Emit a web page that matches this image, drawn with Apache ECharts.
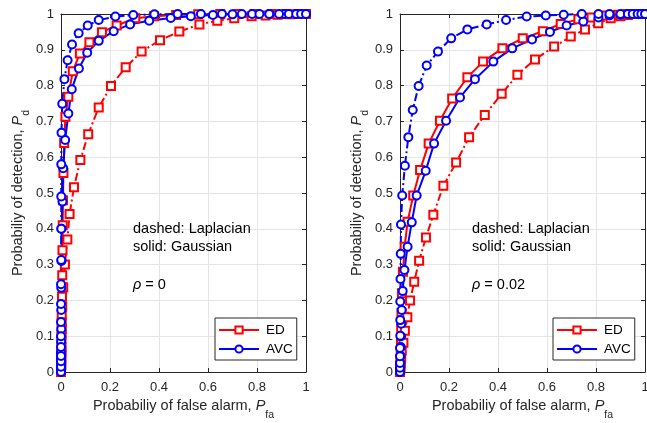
<!DOCTYPE html>
<html><head><meta charset="utf-8">
<script src="https://cdn.jsdelivr.net/npm/echarts@6/dist/echarts.min.js"></script>
<style>html,body{margin:0;padding:0;background:#fff}#c{width:647px;height:423px}</style>
</head><body><div id="c"></div>
<script>
// ---------- data (Pfa, Pd) ----------
const seriesNames = ['ED', 'AVC'];
const xTickStep = 0.2, yTickStep = 0.1;
const rhoValues = ['0', '0.02'];

// rho = 0
const edGauss0 = [[0,0],[0.001,0.02],[0.001,0.04],[0.002,0.06],[0.002,0.09],[0.003,0.12],[0.003,0.16],[0.004,0.21],[0.005,0.27],[0.006,0.34],[0.007,0.41],[0.008,0.48],[0.01,0.556],[0.013,0.64],[0.018,0.713],[0.03,0.769],[0.048,0.84],[0.077,0.89],[0.116,0.921],[0.167,0.949],[0.227,0.968],[0.303,0.988],[0.38,0.994],[0.47,0.997],[0.56,0.999],[0.65,1],[0.72,1],[0.79,1],[0.86,1],[0.92,1],[0.97,1],[1,1]];
const edLap0 = [[0,0],[0.0005,0.01],[0.0005,0.02],[0.001,0.035],[0.001,0.05],[0.0015,0.07],[0.002,0.105],[0.003,0.138],[0.005,0.182],[0.009,0.237],[0.016,0.30],[0.026,0.37],[0.035,0.441],[0.053,0.516],[0.079,0.592],[0.111,0.664],[0.154,0.739],[0.204,0.799],[0.264,0.851],[0.329,0.895],[0.404,0.927],[0.483,0.951],[0.565,0.971],[0.638,0.981],[0.707,0.988],[0.778,0.994],[0.835,0.996],[0.884,0.998],[0.934,0.999],[0.968,1],[0.99,1],[1,1]];
const avcGauss0 = [[0,0],[0,0.01],[0,0.02],[0,0.036],[0,0.055],[0.0005,0.085],[0.001,0.12],[0.001,0.173],[0.001,0.235],[0.002,0.31],[0.002,0.40],[0.006,0.476],[0.009,0.569],[0.017,0.648],[0.03,0.722],[0.044,0.79],[0.073,0.848],[0.107,0.892],[0.154,0.925],[0.215,0.952],[0.282,0.971],[0.36,0.981],[0.448,0.989],[0.53,0.994],[0.62,0.997],[0.7,0.999],[0.78,1],[0.85,1],[0.91,1],[0.96,1],[1,1]];
const avcLap0 = [[0,0],[0,0.015],[0,0.03],[0,0.045],[0,0.07],[0,0.1],[0,0.14],[0,0.19],[0,0.245],[0.001,0.313],[0.001,0.40],[0.001,0.49],[0.001,0.58],[0.002,0.668],[0.005,0.749],[0.014,0.818],[0.027,0.871],[0.045,0.915],[0.072,0.946],[0.109,0.968],[0.154,0.983],[0.222,0.993],[0.295,0.997],[0.381,0.999],[0.476,1],[0.571,1],[0.657,1],[0.738,1],[0.81,1],[0.85,1],[0.89,1],[0.93,1],[0.96,1],[0.98,1],[1,1]];

// rho = 0.02
const edGauss2 = [[0,0],[0.001,0.015],[0.002,0.03],[0.003,0.06],[0.004,0.085],[0.005,0.12],[0.006,0.165],[0.008,0.22],[0.012,0.28],[0.019,0.35],[0.031,0.42],[0.054,0.493],[0.082,0.564],[0.117,0.638],[0.163,0.702],[0.213,0.764],[0.275,0.823],[0.339,0.867],[0.418,0.904],[0.501,0.932],[0.583,0.952],[0.656,0.972],[0.728,0.985],[0.782,0.99],[0.84,0.996],[0.89,0.998],[0.93,1],[0.96,1],[0.98,1],[1,1]];
const edLap2 = [[0,0],[0.002,0.01],[0.003,0.025],[0.005,0.04],[0.007,0.06],[0.014,0.082],[0.02,0.115],[0.03,0.153],[0.041,0.2],[0.058,0.252],[0.078,0.311],[0.106,0.376],[0.136,0.439],[0.177,0.52],[0.229,0.585],[0.282,0.656],[0.346,0.718],[0.415,0.777],[0.479,0.83],[0.551,0.873],[0.629,0.909],[0.697,0.937],[0.755,0.957],[0.809,0.974],[0.86,0.988],[0.9,0.994],[0.93,0.997],[0.96,1],[0.98,1],[1,1]];
const avcGauss2 = [[0,0],[0.001,0.01],[0.001,0.025],[0.002,0.045],[0.003,0.07],[0.004,0.1],[0.005,0.135],[0.007,0.173],[0.011,0.226],[0.018,0.285],[0.031,0.35],[0.048,0.418],[0.068,0.493],[0.105,0.562],[0.139,0.638],[0.188,0.702],[0.245,0.767],[0.306,0.818],[0.381,0.867],[0.458,0.904],[0.539,0.929],[0.612,0.95],[0.68,0.968],[0.748,0.979],[0.81,0.99],[0.855,0.996],[0.9,0.998],[0.93,1],[0.95,1],[0.97,1],[0.985,1],[1,1]];
const avcLap2 = [[0,0],[0,0.012],[0,0.025],[0,0.044],[0,0.067],[0.001,0.101],[0.001,0.145],[0.001,0.197],[0.002,0.26],[0.003,0.33],[0.004,0.412],[0.009,0.493],[0.02,0.576],[0.034,0.656],[0.052,0.732],[0.076,0.799],[0.109,0.856],[0.155,0.895],[0.209,0.932],[0.275,0.957],[0.354,0.971],[0.433,0.983],[0.517,0.993],[0.595,0.996],[0.668,0.998],[0.742,1],[0.81,1],[0.855,1],[0.9,1],[0.93,1],[0.95,1],[0.97,1],[0.985,1],[1,1]];

// ---------- styling / layout ----------
const FONT = "'Liberation Sans', Arial, Helvetica, sans-serif";
const AX = '#262626';
const RED = '#ff0000', BLUE = '#0000ff';
const DASHDOT = [8, 3, 2, 3];
const grids = [
  {left: 61, top: 14, width: 245, height: 358, containLabel: false, outerBoundsMode: 'none'},
  {left: 400, top: 14, width: 245, height: 358, containLabel: false, outerBoundsMode: 'none'}
];

const richName = {
  i: {fontStyle: 'italic', fontSize: 14.5, fontFamily: FONT, color: AX, lineHeight: 28},
  s: {fontSize: 10.5, fontFamily: FONT, color: AX, lineHeight: 10, verticalAlign: 'bottom'},
  n: {fontSize: 14.5, fontFamily: FONT, color: AX, lineHeight: 28}
};

const xAxes = [], yAxes = [];
for (let g = 0; g < 2; g++) {
  xAxes.push({
    type: 'value', gridIndex: g, min: 0, max: 1, interval: xTickStep, position: 'bottom',
    axisLine: {onZero: false, lineStyle: {color: AX, width: 1}},
    axisTick: {inside: true, length: 4, lineStyle: {color: AX}},
    axisLabel: {color: AX, fontSize: 13, fontFamily: FONT, margin: 9},
    splitLine: {show: true, lineStyle: {color: '#e4e4e4', width: 1}},
    name: '{n|Probabiliy of false alarm, }{i|P}{s|fa}',
    nameLocation: 'middle', nameGap: 20,
    nameTextStyle: {rich: richName}
  });
  xAxes.push({
    type: 'value', gridIndex: g, min: 0, max: 1, interval: xTickStep, position: 'top',
    axisLine: {onZero: false, lineStyle: {color: AX, width: 1}},
    axisTick: {inside: true, length: 4, lineStyle: {color: AX}},
    axisLabel: {show: false}, splitLine: {show: false}
  });
  yAxes.push({
    type: 'value', gridIndex: g, min: 0, max: 1, interval: yTickStep, position: 'left',
    axisLine: {onZero: false, lineStyle: {color: AX, width: 1}},
    axisTick: {inside: true, length: 4, lineStyle: {color: AX}},
    axisLabel: {color: AX, fontSize: 13, fontFamily: FONT, margin: 7},
    splitLine: {show: true, lineStyle: {color: '#e4e4e4', width: 1}},
    name: '{n|Probabiliy of detection, }{i|P}{s|d}',
    nameLocation: 'middle', nameGap: 28.5, nameRotate: 90,
    nameTextStyle: {rich: richName}
  });
  yAxes.push({
    type: 'value', gridIndex: g, min: 0, max: 1, interval: yTickStep, position: 'right',
    axisLine: {onZero: false, lineStyle: {color: AX, width: 1}},
    axisTick: {inside: true, length: 4, lineStyle: {color: AX}},
    axisLabel: {show: false}, splitLine: {show: false}
  });
}

function mk(name, data, g, color, dashed, symbol) {
  return {
    type: 'line', name: name, data: data,
    xAxisIndex: g * 2, yAxisIndex: g * 2,
    symbol: symbol, symbolSize: 8,
    showSymbol: true, clip: false, animation: false,
    lineStyle: {color: color, width: 2, type: dashed ? DASHDOT : 'solid'},
    itemStyle: {color: color, borderWidth: 1.7, borderColor: color},
    emphasis: {disabled: true}
  };
}

const series = [
  mk('ED', edGauss0, 0, RED, false, 'emptyRect'),
  mk('ED', edLap0, 0, RED, true, 'emptyRect'),
  mk('AVC', avcGauss0, 0, BLUE, false, 'emptyCircle'),
  mk('AVC', avcLap0, 0, BLUE, true, 'emptyCircle'),
  mk('ED', edGauss2, 1, RED, false, 'emptyRect'),
  mk('ED', edLap2, 1, RED, true, 'emptyRect'),
  mk('AVC', avcGauss2, 1, BLUE, false, 'emptyCircle'),
  mk('AVC', avcLap2, 1, BLUE, true, 'emptyCircle')
];

function legend(left) {
  return {
    data: seriesNames, orient: 'vertical', left: left, top: 318,
    itemWidth: 40, itemHeight: 9, itemGap: 5, padding: [5, 4, 4, 3],
    backgroundColor: '#fff', borderColor: AX, borderWidth: 1,
    textStyle: {color: '#000', fontSize: 13.5, fontFamily: FONT, padding: [0, 0, 0, 2]},
    selectedMode: false
  };
}

function notes(x, rho) {
  const base = {fontFamily: FONT, fontSize: 14.5, fill: '#000'};
  return [
    {type: 'text', left: x, top: 221, z: 50, style: Object.assign({text: 'dashed: Laplacian'}, base)},
    {type: 'text', left: x, top: 239, z: 50, style: Object.assign({text: 'solid: Gaussian'}, base)},
    {type: 'text', left: x, top: 277, z: 50, style: Object.assign({
      text: '{g|\u03c1} = ' + rho,
      rich: {g: {fontStyle: 'italic', fontFamily: FONT, fontSize: 14.5, fill: '#000'}}
    }, base)}
  ];
}

const chart = echarts.init(document.getElementById('c'), null, {renderer: 'canvas'});
chart.setOption({
  animation: false,
  backgroundColor: '#fff',
  grid: grids,
  xAxis: xAxes,
  yAxis: yAxes,
  legend: [legend(215), legend(553)],
  series: series,
  graphic: notes(133, rhoValues[0]).concat(notes(472, rhoValues[1]))
});
</script>
</body></html>
